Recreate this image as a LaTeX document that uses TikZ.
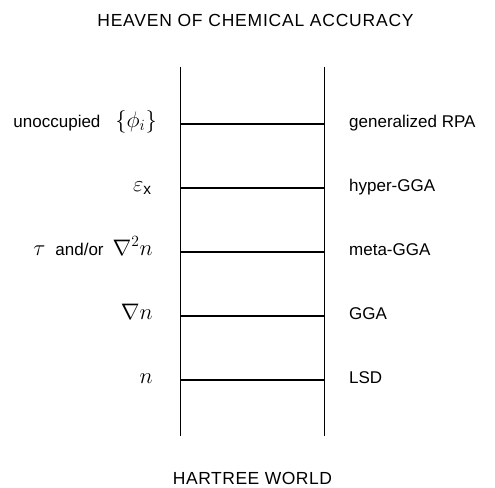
\documentclass[tikz,border=0pt]{standalone}
\usepackage{fontspec}
\setmainfont{Liberation Sans}
\newcommand\mymth[1]{\scalebox{1.3}{$#1$}}
\begin{document}
\begin{tikzpicture}[x=1pt,y=-1pt,
  rail/.style={line width=1.7pt},
  rung/.style={line width=1.7pt},
  lab/.style={font=\fontsize{17}{19}\selectfont, inner sep=0pt},
  leftlab/.style={lab, anchor=base east},
  rightlab/.style={lab, anchor=base west},
  title/.style={font=\fontsize{17.5}{19}\selectfont, inner sep=0pt, anchor=base}]
\useasboundingbox (0,0) rectangle (495,487);
% rails
\coordinate (LT) at (180.5,67);
\coordinate (LB) at (180.5,436);
\coordinate (RT) at (324.5,67);
\coordinate (RB) at (324.5,436);
\draw[rail] (LT) -- (LB);
\draw[rail] (RT) -- (RB);
% rungs
\foreach \y/\n in {124/a,188/b,252/c,316/d,380/e}{
  \coordinate (L\n) at (180.5,\y);
  \coordinate (R\n) at (324.5,\y);
  \draw[rung] (L\n) -- (R\n);
}
% titles
\node[title] (heaven) at (255.5,26.7) {\addfontfeature{LetterSpace=4.5}HEAVEN OF CHEMICAL ACCURACY};
\node[title] (hartree) at (252.5,484) {\addfontfeature{LetterSpace=3}HARTREE WORLD};
% left labels
\node[leftlab] (la) at (157,127) {unoccupied\hspace{15pt}\mymth{\{\phi_i\}}};
\node[leftlab] (lb) at (152,191) {\mymth{\varepsilon_{\mathrm{x}}}};
\node[leftlab] (lc) at (153,255) {\mymth{\tau}\hspace{10pt}and/or\hspace{9pt}\mymth{\nabla^2 n}};
\node[leftlab] (ld) at (153,319) {\mymth{\nabla n}};
\node[leftlab] (le) at (153,383) {\mymth{n}};
% right labels
\node[rightlab] (ra) at (349,127) {generalized RPA};
\node[rightlab] (rb) at (349,191) {hyper-GGA};
\node[rightlab] (rc) at (349,255) {meta-GGA};
\node[rightlab] (rd) at (349,319) {GGA};
\node[rightlab] (re) at (349,383) {LSD};
\end{tikzpicture}
\end{document}
